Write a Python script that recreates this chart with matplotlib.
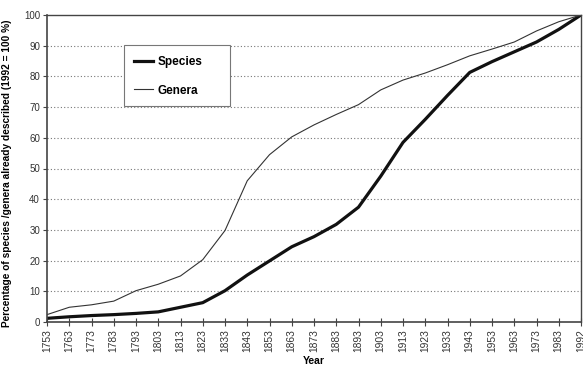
import matplotlib
matplotlib.use("Agg")
import matplotlib.pyplot as plt
from matplotlib.patches import Rectangle

plt.rcParams['font.family'] = ['Liberation Sans', 'DejaVu Sans']

years = ["1753", "1763", "1773", "1783", "1793", "1803", "1813", "1823", "1833",
         "1843", "1853", "1863", "1873", "1883", "1893", "1903", "1913", "1923",
         "1933", "1943", "1953", "1963", "1973", "1983", "1992"]
species = [1.2, 1.7, 2.1, 2.4, 2.8, 3.3, 4.8, 6.3, 10.2, 15.3, 19.9, 24.5, 27.8,
           31.8, 37.4, 47.5, 58.5, 66.0, 73.8, 81.3, 84.8, 88.0, 91.2, 95.3, 100.0]
genera = [2.4, 4.8, 5.6, 6.8, 10.2, 12.3, 15.0, 20.3, 29.8, 46.0, 54.5, 60.3, 64.2,
          67.6, 70.8, 75.6, 78.8, 81.1, 83.8, 86.7, 88.9, 91.2, 94.8, 97.8, 100.0]
yticks = [0, 10, 20, 30, 40, 50, 60, 70, 80, 90, 100]

fig = plt.figure(figsize=(5.83, 3.69), dpi=100)
ax = fig.add_axes([47/583, 1 - 322/369, (581-47)/583, (322-15)/369])

x = list(range(len(years)))
ax.plot(x, species, color='#111111', lw=2.3, label='Species', solid_joinstyle='round')
ax.plot(x, genera, color='#333333', lw=0.8, label='Genera')

ax.set_xlim(0, len(years) - 1)
ax.set_ylim(0, 100)
ax.set_xticks(x)
ax.set_xticklabels(years, rotation=90, fontsize=7.4, color='#333333')
ax.set_yticks(yticks)
ax.set_yticklabels([str(v) for v in yticks], fontsize=7, color='#333333')
ax.tick_params(axis='x', direction='inout', length=6, width=0.8, color='#444444', pad=2)
ax.tick_params(axis='y', direction='out', length=3, width=0.8, color='#444444', pad=2)

for yv in yticks[1:-1]:
    ax.axhline(yv, color='#777777', lw=0.8, ls=(0, (1, 2)), zorder=0)

for s in ax.spines.values():
    s.set_color('#444444')
    s.set_linewidth(1.0)
ax.spines['left'].set_linewidth(1.2)
ax.spines['bottom'].set_linewidth(1.2)

ax.set_xlabel('Year', fontsize=7.5, fontweight='bold', labelpad=3)
ax.set_ylabel('Percentage of species /genera already described (1992 = 100 %)',
              fontsize=7.3, fontweight='bold')
ax.yaxis.set_label_coords(-0.065, 0.485)

# legend box
x0 = (124 - 47) / 534
x1 = (230 - 47) / 534
y0 = (322 - 106) / 307
y1 = (322 - 45) / 307
ax.add_patch(Rectangle((x0, y0), x1 - x0, y1 - y0, transform=ax.transAxes,
                       facecolor='white', edgecolor='#777777', lw=0.8, zorder=3))
leg = ax.legend(loc='upper left', bbox_to_anchor=((137 - 47) / 534 - 0.005, (322 - 56) / 307),
                frameon=False, prop={'weight': 'bold', 'size': 8.5},
                handlelength=1.6, handletextpad=0.35, labelspacing=1.4,
                borderpad=0, borderaxespad=0)
leg.set_zorder(4)

fig.savefig('out.png', dpi=100)
